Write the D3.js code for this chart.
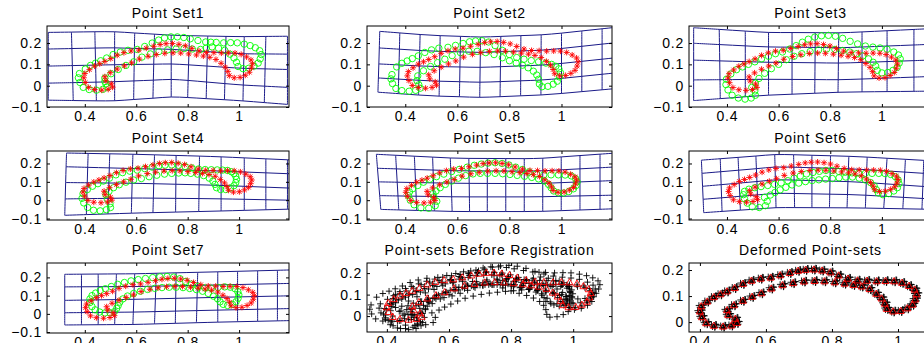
<!DOCTYPE html>
<html>
<head>
<meta charset="utf-8">
<script src="https://cdnjs.cloudflare.com/ajax/libs/d3/7.8.5/d3.min.js"></script>
<style>
  body { margin: 0; background: #fff; }
  svg { display: block; }
</style>
</head>
<body>
<svg id="fig" width="924" height="343"></svg>
<script>
// ---- data (data units) ----
const titles = ["Point Set1", "Point Set2", "Point Set3", "Point Set4", "Point Set5",
  "Point Set6", "Point Set7", "Point-sets Before Registration", "Deformed Point-sets"];
const xTicks = [0.4, 0.6, 0.8, 1];
const yTicksSet = [-0.1, 0, 0.1, 0.2];
const yTicksReg = [0, 0.1, 0.2];

// template (red triangles)
const template = [[0.507,0.012],[0.512,-0.004],[0.495,-0.014],[0.470,-0.018],[0.442,-0.015],[0.419,-0.005],[0.406,0.018],[0.400,0.040],[0.404,0.060],[0.422,0.078],[0.442,0.095],[0.462,0.106],[0.482,0.117],[0.505,0.130],[0.530,0.146],[0.556,0.158],[0.584,0.166],[0.614,0.170],[0.643,0.179],[0.672,0.188],[0.697,0.196],[0.720,0.200],[0.745,0.201],[0.770,0.197],[0.795,0.190],[0.820,0.178],[0.848,0.166],[0.877,0.159],[0.906,0.158],[0.935,0.156],[0.962,0.157],[0.988,0.156],[1.012,0.150],[1.033,0.138],[1.050,0.124],[1.056,0.106],[1.052,0.086],[1.044,0.066],[1.028,0.052],[1.008,0.042],[0.985,0.040],[0.966,0.050],[0.960,0.070],[0.950,0.090],[0.934,0.108],[0.914,0.126],[0.890,0.136],[0.865,0.142],[0.838,0.147],[0.808,0.152],[0.777,0.156],[0.747,0.157],[0.715,0.155],[0.682,0.149],[0.650,0.141],[0.616,0.128],[0.586,0.110],[0.558,0.096],[0.530,0.081],[0.503,0.064],[0.482,0.045],[0.486,0.026]];

// original point sets (green circles)
const green1 = [[0.482,0.009],[0.487,-0.007],[0.470,-0.017],[0.445,-0.021],[0.417,-0.018],[0.394,-0.008],[0.381,0.015],[0.375,0.037],[0.379,0.057],[0.402,0.078],[0.422,0.095],[0.442,0.106],[0.462,0.117],[0.485,0.130],[0.510,0.146],[0.538,0.158],[0.568,0.166],[0.604,0.170],[0.633,0.184],[0.662,0.200],[0.687,0.214],[0.710,0.224],[0.735,0.229],[0.760,0.229],[0.785,0.226],[0.810,0.220],[0.840,0.212],[0.870,0.205],[0.890,0.204],[0.911,0.203],[0.940,0.201],[0.967,0.202],[0.993,0.201],[1.020,0.195],[1.043,0.188],[1.063,0.178],[1.080,0.164],[1.086,0.146],[1.082,0.126],[1.074,0.106],[1.058,0.092],[1.038,0.082],[1.015,0.080],[0.996,0.090],[0.990,0.110],[0.980,0.130],[0.964,0.148],[0.944,0.166],[0.920,0.176],[0.895,0.182],[0.872,0.176],[0.850,0.170],[0.818,0.172],[0.786,0.174],[0.755,0.172],[0.722,0.168],[0.688,0.160],[0.655,0.149],[0.622,0.134],[0.590,0.112],[0.560,0.095],[0.530,0.076],[0.502,0.056],[0.478,0.036],[0.478,0.020]];
const green2 = [[0.452,0.004],[0.457,-0.012],[0.440,-0.022],[0.415,-0.026],[0.387,-0.023],[0.364,-0.013],[0.351,0.010],[0.345,0.032],[0.349,0.052],[0.367,0.088],[0.387,0.105],[0.407,0.116],[0.427,0.127],[0.450,0.140],[0.475,0.156],[0.501,0.168],[0.529,0.176],[0.564,0.180],[0.593,0.189],[0.622,0.198],[0.647,0.206],[0.670,0.210],[0.695,0.211],[0.720,0.205],[0.745,0.188],[0.772,0.166],[0.800,0.146],[0.828,0.132],[0.856,0.124],[0.884,0.118],[0.912,0.112],[0.940,0.106],[0.962,0.100],[0.978,0.091],[0.990,0.079],[0.996,0.061],[0.992,0.041],[0.984,0.021],[0.968,0.007],[0.948,-0.003],[0.925,-0.005],[0.915,0.008],[0.912,0.030],[0.905,0.050],[0.892,0.068],[0.872,0.084],[0.850,0.096],[0.826,0.106],[0.800,0.117],[0.773,0.131],[0.741,0.146],[0.709,0.155],[0.676,0.161],[0.644,0.162],[0.612,0.155],[0.580,0.141],[0.552,0.124],[0.524,0.108],[0.497,0.090],[0.470,0.070],[0.448,0.046],[0.445,0.024]];
const green3 = [[0.508,-0.025],[0.510,-0.045],[0.494,-0.058],[0.470,-0.063],[0.444,-0.058],[0.420,-0.045],[0.404,-0.020],[0.396,0.005],[0.398,0.030],[0.415,0.055],[0.437,0.075],[0.460,0.088],[0.483,0.100],[0.508,0.112],[0.534,0.126],[0.561,0.138],[0.588,0.150],[0.615,0.158],[0.643,0.172],[0.668,0.188],[0.692,0.204],[0.715,0.218],[0.740,0.228],[0.766,0.234],[0.793,0.236],[0.820,0.232],[0.848,0.222],[0.877,0.208],[0.906,0.196],[0.936,0.186],[0.965,0.181],[0.993,0.177],[1.020,0.171],[1.046,0.158],[1.064,0.144],[1.071,0.126],[1.067,0.106],[1.059,0.086],[1.043,0.072],[1.023,0.062],[1.000,0.060],[0.982,0.072],[0.976,0.092],[0.966,0.110],[0.948,0.126],[0.926,0.140],[0.902,0.150],[0.876,0.158],[0.848,0.165],[0.818,0.170],[0.786,0.172],[0.755,0.168],[0.722,0.160],[0.690,0.150],[0.660,0.138],[0.630,0.122],[0.600,0.100],[0.572,0.080],[0.546,0.058],[0.524,0.034],[0.510,0.012],[0.496,-0.008]];
const green4 = [[0.498,-0.020],[0.500,-0.040],[0.484,-0.052],[0.460,-0.058],[0.434,-0.055],[0.411,-0.040],[0.396,-0.015],[0.389,0.010],[0.393,0.035],[0.410,0.058],[0.430,0.076],[0.451,0.090],[0.472,0.104],[0.496,0.120],[0.521,0.138],[0.547,0.150],[0.575,0.158],[0.604,0.164],[0.633,0.172],[0.662,0.180],[0.688,0.188],[0.712,0.191],[0.738,0.192],[0.764,0.190],[0.790,0.184],[0.816,0.176],[0.842,0.170],[0.868,0.167],[0.892,0.166],[0.915,0.165],[0.936,0.164],[0.955,0.162],[0.970,0.155],[0.980,0.145],[0.987,0.130],[0.990,0.114],[0.987,0.096],[0.980,0.079],[0.966,0.066],[0.948,0.058],[0.928,0.058],[0.912,0.068],[0.906,0.086],[0.898,0.104],[0.884,0.120],[0.862,0.134],[0.838,0.142],[0.812,0.146],[0.790,0.149],[0.765,0.148],[0.738,0.146],[0.710,0.142],[0.680,0.136],[0.650,0.128],[0.620,0.118],[0.590,0.110],[0.560,0.098],[0.534,0.084],[0.512,0.068],[0.494,0.048],[0.482,0.030],[0.488,0.005]];
const green5 = [[0.510,0.018],[0.521,-0.006],[0.515,-0.030],[0.490,-0.044],[0.460,-0.042],[0.434,-0.025],[0.419,0.000],[0.412,0.025],[0.416,0.045],[0.428,0.062],[0.448,0.080],[0.470,0.098],[0.494,0.114],[0.520,0.128],[0.548,0.142],[0.578,0.156],[0.608,0.168],[0.638,0.180],[0.665,0.190],[0.692,0.197],[0.718,0.202],[0.745,0.204],[0.772,0.200],[0.798,0.192],[0.824,0.180],[0.850,0.167],[0.876,0.154],[0.904,0.142],[0.932,0.138],[0.960,0.138],[0.988,0.138],[1.014,0.137],[1.038,0.132],[1.054,0.118],[1.060,0.100],[1.056,0.080],[1.046,0.062],[1.028,0.047],[1.008,0.039],[0.988,0.040],[0.970,0.050],[0.960,0.068],[0.950,0.086],[0.934,0.104],[0.912,0.116],[0.886,0.124],[0.858,0.130],[0.830,0.135],[0.802,0.140],[0.774,0.144],[0.745,0.146],[0.716,0.146],[0.688,0.146],[0.660,0.143],[0.632,0.134],[0.604,0.120],[0.578,0.104],[0.554,0.086],[0.534,0.068],[0.518,0.050],[0.506,0.036]];
const green6 = [[0.545,0.015],[0.556,-0.006],[0.549,-0.030],[0.525,-0.040],[0.498,-0.036],[0.479,-0.016],[0.468,0.008],[0.464,0.030],[0.468,0.048],[0.485,0.060],[0.508,0.068],[0.532,0.074],[0.558,0.080],[0.584,0.086],[0.610,0.094],[0.636,0.106],[0.660,0.120],[0.684,0.132],[0.708,0.143],[0.733,0.151],[0.758,0.157],[0.783,0.162],[0.808,0.162],[0.833,0.157],[0.858,0.152],[0.884,0.149],[0.910,0.147],[0.936,0.146],[0.962,0.146],[0.988,0.146],[1.012,0.145],[1.034,0.140],[1.052,0.128],[1.063,0.110],[1.066,0.090],[1.060,0.068],[1.046,0.050],[1.026,0.036],[1.004,0.030],[0.986,0.040],[0.978,0.058],[0.970,0.078],[0.956,0.096],[0.936,0.110],[0.912,0.120],[0.886,0.126],[0.860,0.126],[0.834,0.122],[0.808,0.118],[0.782,0.115],[0.756,0.111],[0.730,0.107],[0.704,0.101],[0.678,0.093],[0.652,0.083],[0.628,0.070],[0.606,0.056],[0.586,0.042],[0.568,0.028]];
const green7 = [[0.524,0.030],[0.515,0.012],[0.498,0.006],[0.478,0.005],[0.458,0.010],[0.440,0.022],[0.428,0.040],[0.420,0.062],[0.420,0.082],[0.428,0.100],[0.442,0.114],[0.460,0.128],[0.480,0.138],[0.503,0.150],[0.528,0.162],[0.554,0.172],[0.580,0.181],[0.608,0.188],[0.636,0.194],[0.664,0.199],[0.692,0.203],[0.720,0.205],[0.746,0.202],[0.770,0.193],[0.792,0.178],[0.815,0.163],[0.840,0.151],[0.866,0.143],[0.892,0.141],[0.918,0.145],[0.944,0.148],[0.966,0.146],[0.984,0.138],[0.995,0.122],[0.999,0.104],[0.996,0.085],[0.988,0.066],[0.974,0.052],[0.955,0.046],[0.938,0.052],[0.926,0.066],[0.916,0.083],[0.900,0.097],[0.880,0.112],[0.858,0.124],[0.834,0.133],[0.808,0.139],[0.782,0.144],[0.755,0.146],[0.728,0.146],[0.700,0.144],[0.672,0.140],[0.644,0.134],[0.616,0.124],[0.590,0.112],[0.566,0.098],[0.548,0.082],[0.536,0.064],[0.530,0.046]];

// deformed point sets (red stars)
const red1 = [[0.503,0.009],[0.508,-0.007],[0.491,-0.017],[0.466,-0.021],[0.438,-0.018],[0.415,-0.008],[0.402,0.015],[0.396,0.037],[0.400,0.057],[0.418,0.075],[0.438,0.092],[0.458,0.103],[0.478,0.114],[0.501,0.127],[0.526,0.143],[0.552,0.155],[0.580,0.163],[0.610,0.167],[0.639,0.176],[0.668,0.185],[0.693,0.193],[0.716,0.197],[0.741,0.198],[0.766,0.194],[0.791,0.187],[0.816,0.175],[0.844,0.163],[0.873,0.156],[0.902,0.155],[0.931,0.153],[0.958,0.154],[0.984,0.153],[1.008,0.147],[1.029,0.135],[1.046,0.121],[1.052,0.103],[1.048,0.083],[1.040,0.063],[1.024,0.049],[1.004,0.039],[0.981,0.037],[0.962,0.047],[0.956,0.067],[0.946,0.087],[0.930,0.105],[0.910,0.123],[0.886,0.133],[0.861,0.139],[0.834,0.144],[0.804,0.149],[0.773,0.153],[0.743,0.154],[0.711,0.152],[0.678,0.146],[0.646,0.138],[0.612,0.125],[0.582,0.107],[0.554,0.093],[0.526,0.078],[0.499,0.061],[0.478,0.042],[0.482,0.023]];
const red2 = [[0.515,0.018],[0.520,0.002],[0.503,-0.008],[0.478,-0.012],[0.450,-0.009],[0.427,0.001],[0.414,0.024],[0.408,0.046],[0.412,0.066],[0.430,0.084],[0.450,0.101],[0.470,0.112],[0.490,0.123],[0.513,0.136],[0.538,0.152],[0.564,0.164],[0.592,0.172],[0.622,0.176],[0.651,0.185],[0.680,0.194],[0.705,0.202],[0.728,0.206],[0.753,0.207],[0.778,0.203],[0.803,0.196],[0.828,0.184],[0.856,0.172],[0.885,0.165],[0.914,0.164],[0.943,0.162],[0.970,0.163],[0.996,0.162],[1.020,0.156],[1.041,0.144],[1.058,0.130],[1.064,0.112],[1.060,0.092],[1.052,0.072],[1.036,0.058],[1.016,0.048],[0.993,0.046],[0.974,0.056],[0.968,0.076],[0.958,0.096],[0.942,0.114],[0.922,0.132],[0.898,0.142],[0.873,0.148],[0.846,0.153],[0.816,0.158],[0.785,0.162],[0.755,0.163],[0.723,0.161],[0.690,0.155],[0.658,0.147],[0.624,0.134],[0.594,0.116],[0.566,0.102],[0.538,0.087],[0.511,0.070],[0.490,0.051],[0.494,0.032]];
const red3 = [[0.511,0.008],[0.516,-0.008],[0.499,-0.018],[0.474,-0.022],[0.446,-0.019],[0.423,-0.009],[0.410,0.014],[0.404,0.036],[0.408,0.056],[0.426,0.074],[0.446,0.091],[0.466,0.102],[0.486,0.113],[0.509,0.126],[0.534,0.142],[0.560,0.154],[0.588,0.162],[0.618,0.166],[0.647,0.175],[0.676,0.184],[0.701,0.192],[0.724,0.196],[0.749,0.197],[0.774,0.193],[0.799,0.186],[0.824,0.174],[0.852,0.162],[0.881,0.155],[0.910,0.154],[0.939,0.152],[0.966,0.153],[0.992,0.152],[1.016,0.146],[1.037,0.134],[1.054,0.120],[1.060,0.102],[1.056,0.082],[1.048,0.062],[1.032,0.048],[1.012,0.038],[0.989,0.036],[0.970,0.046],[0.964,0.066],[0.954,0.086],[0.938,0.104],[0.918,0.122],[0.894,0.132],[0.869,0.138],[0.842,0.143],[0.812,0.148],[0.781,0.152],[0.751,0.153],[0.719,0.151],[0.686,0.145],[0.654,0.137],[0.620,0.124],[0.590,0.106],[0.562,0.092],[0.534,0.077],[0.507,0.060],[0.486,0.041],[0.490,0.022]];
const red4 = [[0.500,0.016],[0.505,0.000],[0.488,-0.010],[0.463,-0.014],[0.435,-0.011],[0.412,-0.001],[0.399,0.022],[0.393,0.044],[0.397,0.064],[0.415,0.082],[0.435,0.099],[0.455,0.110],[0.475,0.121],[0.498,0.134],[0.523,0.150],[0.549,0.162],[0.577,0.170],[0.607,0.174],[0.636,0.183],[0.665,0.192],[0.690,0.200],[0.713,0.204],[0.738,0.205],[0.763,0.201],[0.788,0.194],[0.813,0.182],[0.841,0.170],[0.870,0.163],[0.899,0.162],[0.928,0.160],[0.955,0.161],[0.981,0.160],[1.005,0.154],[1.026,0.142],[1.043,0.128],[1.049,0.110],[1.045,0.090],[1.037,0.070],[1.021,0.056],[1.001,0.046],[0.978,0.044],[0.959,0.054],[0.953,0.074],[0.943,0.094],[0.927,0.112],[0.907,0.130],[0.883,0.140],[0.858,0.146],[0.831,0.151],[0.801,0.156],[0.770,0.160],[0.740,0.161],[0.708,0.159],[0.675,0.153],[0.643,0.145],[0.609,0.132],[0.579,0.114],[0.551,0.100],[0.523,0.085],[0.496,0.068],[0.475,0.049],[0.479,0.030]];
const red5 = [[0.509,0.015],[0.514,-0.001],[0.497,-0.011],[0.472,-0.015],[0.444,-0.012],[0.421,-0.002],[0.408,0.021],[0.402,0.043],[0.406,0.063],[0.424,0.081],[0.444,0.098],[0.464,0.109],[0.484,0.120],[0.507,0.133],[0.532,0.149],[0.558,0.161],[0.586,0.169],[0.616,0.173],[0.645,0.182],[0.674,0.191],[0.699,0.199],[0.722,0.203],[0.747,0.204],[0.772,0.200],[0.797,0.193],[0.822,0.181],[0.850,0.169],[0.879,0.162],[0.908,0.161],[0.937,0.159],[0.964,0.160],[0.990,0.159],[1.014,0.153],[1.035,0.141],[1.052,0.127],[1.058,0.109],[1.054,0.089],[1.046,0.069],[1.030,0.055],[1.010,0.045],[0.987,0.043],[0.968,0.053],[0.962,0.073],[0.952,0.093],[0.936,0.111],[0.916,0.129],[0.892,0.139],[0.867,0.145],[0.840,0.150],[0.810,0.155],[0.779,0.159],[0.749,0.160],[0.717,0.158],[0.684,0.152],[0.652,0.144],[0.618,0.131],[0.588,0.113],[0.560,0.099],[0.532,0.084],[0.505,0.067],[0.484,0.048],[0.488,0.029]];
const red6 = [[0.513,0.019],[0.518,0.003],[0.501,-0.007],[0.476,-0.011],[0.448,-0.008],[0.425,0.002],[0.412,0.025],[0.406,0.047],[0.410,0.067],[0.428,0.085],[0.448,0.102],[0.468,0.113],[0.488,0.124],[0.511,0.137],[0.536,0.153],[0.562,0.165],[0.590,0.173],[0.620,0.177],[0.649,0.186],[0.678,0.195],[0.703,0.203],[0.726,0.207],[0.751,0.208],[0.776,0.204],[0.801,0.197],[0.826,0.185],[0.854,0.173],[0.883,0.166],[0.912,0.165],[0.941,0.163],[0.968,0.164],[0.994,0.163],[1.018,0.157],[1.039,0.145],[1.056,0.131],[1.062,0.113],[1.058,0.093],[1.050,0.073],[1.034,0.059],[1.014,0.049],[0.991,0.047],[0.972,0.057],[0.966,0.077],[0.956,0.097],[0.940,0.115],[0.920,0.133],[0.896,0.143],[0.871,0.149],[0.844,0.154],[0.814,0.159],[0.783,0.163],[0.753,0.164],[0.721,0.162],[0.688,0.156],[0.656,0.148],[0.622,0.135],[0.592,0.117],[0.564,0.103],[0.536,0.088],[0.509,0.071],[0.488,0.052],[0.492,0.033]];
const red7 = [[0.510,0.006],[0.515,-0.010],[0.498,-0.020],[0.473,-0.024],[0.445,-0.021],[0.422,-0.011],[0.409,0.012],[0.403,0.034],[0.407,0.054],[0.425,0.072],[0.445,0.089],[0.465,0.100],[0.485,0.111],[0.508,0.124],[0.533,0.140],[0.559,0.152],[0.587,0.160],[0.617,0.164],[0.646,0.173],[0.675,0.182],[0.700,0.190],[0.723,0.194],[0.748,0.195],[0.773,0.191],[0.798,0.184],[0.823,0.172],[0.851,0.160],[0.880,0.153],[0.909,0.152],[0.938,0.150],[0.965,0.151],[0.991,0.150],[1.015,0.144],[1.036,0.132],[1.053,0.118],[1.059,0.100],[1.055,0.080],[1.047,0.060],[1.031,0.046],[1.011,0.036],[0.988,0.034],[0.969,0.044],[0.963,0.064],[0.953,0.084],[0.937,0.102],[0.917,0.120],[0.893,0.130],[0.868,0.136],[0.841,0.141],[0.811,0.146],[0.780,0.150],[0.750,0.151],[0.718,0.149],[0.685,0.143],[0.653,0.135],[0.619,0.122],[0.589,0.104],[0.561,0.090],[0.533,0.075],[0.506,0.058],[0.485,0.039],[0.489,0.020]];

// deformation grids: x of each vertical line at top / bottom row, y profile of each row
const grid1 = {
  top: [0.258,0.348,0.439,0.516,0.594,0.671,0.736,0.807,0.878,0.949,1.020,1.104,1.188],
  bot: [0.258,0.355,0.445,0.516,0.590,0.665,0.736,0.800,0.872,0.943,1.015,1.098,1.188],
  rows: [
    [[0.26,0.250],[0.5,0.254],[0.75,0.236],[1.0,0.230],[1.19,0.232]],
    [[0.26,0.172],[0.5,0.178],[0.75,0.170],[1.0,0.150],[1.19,0.148]],
    [[0.26,0.092],[0.5,0.098],[0.75,0.102],[1.0,0.082],[1.19,0.076]],
    [[0.26,0.012],[0.5,0.018],[0.75,0.030],[1.0,0.004],[1.19,-0.008]],
    [[0.26,-0.068],[0.5,-0.072],[0.75,-0.052],[1.0,-0.070],[1.19,-0.088]]
  ]
};
const grid2 = {
  top: [0.302,0.379,0.457,0.534,0.612,0.689,0.767,0.844,0.922,1.000,1.078,1.156,1.234],
  bot: [0.295,0.373,0.451,0.530,0.608,0.686,0.764,0.843,0.921,1.000,1.078,1.156,1.234],
  rows: [
    [[0.30,0.255],[0.5,0.236],[0.7,0.228],[0.95,0.240],[1.24,0.278]],
    [[0.30,0.177],[0.5,0.162],[0.7,0.156],[0.95,0.168],[1.24,0.206]],
    [[0.30,0.102],[0.5,0.090],[0.7,0.086],[0.95,0.098],[1.24,0.135]],
    [[0.30,0.036],[0.5,0.022],[0.7,0.016],[0.95,0.028],[1.24,0.064]],
    [[0.30,-0.031],[0.5,-0.048],[0.7,-0.055],[0.95,-0.042],[1.24,-0.010]]
  ]
};
const grid3 = {
  top: [0.271,0.370,0.471,0.561,0.652,0.742,0.833,0.923,1.020,1.124,1.228],
  bot: [0.271,0.374,0.471,0.561,0.652,0.740,0.830,0.923,1.020,1.124,1.228],
  rows: [
    [[0.27,0.272],[0.55,0.250],[0.85,0.248],[1.23,0.270]],
    [[0.27,0.199],[0.55,0.182],[0.85,0.178],[1.23,0.196]],
    [[0.27,0.120],[0.55,0.110],[0.85,0.106],[1.23,0.122]],
    [[0.27,0.027],[0.55,0.030],[0.85,0.028],[1.23,0.045]],
    [[0.27,-0.070],[0.55,-0.045],[0.85,-0.030],[1.23,-0.025]]
  ]
};
const grid4 = {
  top: [0.329,0.413,0.497,0.587,0.671,0.755,0.846,0.930,1.020,1.104,1.188,1.272],
  bot: [0.322,0.406,0.490,0.581,0.665,0.753,0.843,0.930,1.020,1.104,1.188,1.272],
  rows: [
    [[0.33,0.257],[0.6,0.250],[0.9,0.238],[1.27,0.215]],
    [[0.33,0.182],[0.6,0.172],[0.9,0.160],[1.27,0.140]],
    [[0.33,0.096],[0.6,0.092],[0.9,0.082],[1.27,0.062]],
    [[0.33,0.007],[0.6,0.012],[0.9,0.008],[1.27,-0.002]],
    [[0.33,-0.082],[0.6,-0.070],[0.9,-0.060],[1.27,-0.046]]
  ]
};
const grid5 = {
  top: [0.289,0.363,0.435,0.505,0.573,0.644,0.715,0.786,0.857,0.928,0.999,1.071,1.148,1.220],
  bot: [0.306,0.375,0.444,0.512,0.580,0.647,0.715,0.786,0.857,0.928,0.999,1.071,1.148,1.220],
  rows: [
    [[0.29,0.250],[0.6,0.228],[0.9,0.226],[1.22,0.258]],
    [[0.29,0.174],[0.6,0.160],[0.9,0.158],[1.22,0.182]],
    [[0.29,0.100],[0.6,0.092],[0.9,0.090],[1.22,0.108]],
    [[0.29,0.025],[0.6,0.018],[0.9,0.018],[1.22,0.028]],
    [[0.30,-0.050],[0.6,-0.062],[0.9,-0.062],[1.22,-0.046]]
  ]
};
const grid6 = {
  top: [0.301,0.374,0.443,0.512,0.585,0.658,0.729,0.801,0.872,0.943,1.020,1.091,1.162,1.233],
  bot: [0.310,0.381,0.452,0.520,0.590,0.662,0.729,0.797,0.865,0.936,1.007,1.081,1.155,1.226],
  rows: [
    [[0.30,0.218],[0.6,0.250],[0.9,0.238],[1.2,0.214]],
    [[0.30,0.146],[0.6,0.182],[0.9,0.170],[1.2,0.143]],
    [[0.30,0.075],[0.6,0.112],[0.9,0.100],[1.2,0.071]],
    [[0.30,0.004],[0.6,0.038],[0.9,0.030],[1.2,0.006]],
    [[0.31,-0.068],[0.6,-0.040],[0.9,-0.042],[1.2,-0.050]]
  ]
};
const grid7 = {
  top: [0.322,0.387,0.452,0.523,0.594,0.678,0.755,0.839,0.917,0.994,1.072,1.149,1.227],
  bot: [0.322,0.387,0.452,0.516,0.587,0.671,0.752,0.834,0.917,0.994,1.072,1.149,1.227],
  rows: [
    [[0.32,0.217],[0.6,0.220],[0.9,0.230],[1.23,0.242]],
    [[0.32,0.148],[0.6,0.150],[0.9,0.158],[1.23,0.168]],
    [[0.32,0.074],[0.6,0.080],[0.9,0.090],[1.23,0.100]],
    [[0.32,0.006],[0.6,0.010],[0.9,0.020],[1.23,0.030]],
    [[0.32,-0.061],[0.6,-0.058],[0.9,-0.046],[1.23,-0.036]]
  ]
};

// ---- layout ----
const greens = [green1, green2, green3, green4, green5, green6, green7];
const reds = [red1, red2, red3, red4, red5, red6, red7];
const grids = [grid1, grid2, grid3, grid4, grid5, grid6, grid7];

const colX = [47, 367, 689], colW = [242, 245, 243];
const rowTop = [26, 151, 263], rowH = [81, 69, 70];
const rowYd = [[-0.1, 0.28], [-0.108, 0.268], [-0.105, 0.279]];
const setXd = [0.253, 1.194];

const FONT = "'Liberation Sans', Arial, Helvetica, sans-serif";
const GRID_COLOR = "#1a1a88";
const svg = d3.select("#fig");

const starPath = "M-3,0H3M0,-3V3M-2.2,-2.2L2.2,2.2M-2.2,2.2L2.2,-2.2";
const plusPath = "M-3.2,0H3.2M0,-3.2V3.2";
const triPath = "M0,-3.9L3.5,2.3H-3.5Z";

function drawGrid(g, grid, x, y) {
  const nR = grid.rows.length;
  const rowFn = grid.rows.map(r => d3.scaleLinear().domain(r.map(p => p[0])).range(r.map(p => p[1])));
  const nodes = grid.rows.map((r, ri) => grid.top.map((xt, ci) => {
    const xv = xt + (grid.bot[ci] - xt) * ri / (nR - 1);
    return [xv, rowFn[ri](xv)];
  }));
  const line = d3.line().x(d => x(d[0])).y(d => y(d[1])).curve(d3.curveCatmullRom);
  nodes.forEach(row => g.append("path").attr("d", line(row)));
  grid.top.forEach((_, ci) => g.append("path").attr("d", line(nodes.map(row => row[ci]))));
  g.selectAll("path").attr("fill", "none").attr("stroke", GRID_COLOR).attr("stroke-width", 1);
}

function drawAxes(g, p, x, y, yTicks) {
  const fmt = d3.format("");
  g.append("g").attr("transform", `translate(0,${p.y + p.h})`)
    .call(d3.axisBottom(x).tickValues(xTicks).tickSize(-3).tickPadding(4).tickFormat(fmt));
  g.append("g").attr("transform", `translate(${p.x},0)`)
    .call(d3.axisLeft(y).tickValues(yTicks).tickSize(-3).tickPadding(5).tickFormat(fmt));
  g.append("g").attr("transform", `translate(0,${p.y})`)
    .call(d3.axisTop(x).tickValues(xTicks).tickSize(-3).tickFormat(""));
  g.append("g").attr("transform", `translate(${p.x + p.w},0)`)
    .call(d3.axisRight(y).tickValues(yTicks).tickSize(-3).tickFormat(""));
  g.selectAll(".domain").remove();
  g.selectAll(".tick line").attr("stroke", "#000").attr("stroke-width", 1);
  g.selectAll("g").attr("font-family", FONT).attr("font-size", 14);
  g.selectAll(".tick text").attr("fill", "#000").style("letter-spacing", "0.8px");
  g.append("rect").attr("x", p.x).attr("y", p.y).attr("width", p.w).attr("height", p.h)
    .attr("fill", "none").attr("stroke", "#000").attr("stroke-width", 1);
}

function drawMarks(g, pts, path, color, x, y) {
  g.append("g").selectAll("path").data(pts).join("path")
    .attr("d", path)
    .attr("transform", d => `translate(${x(d[0])},${y(d[1])})`)
    .attr("fill", "none").attr("stroke", color).attr("stroke-width", 0.9);
}

const panels = titles.map((t, i) => {
  const r = Math.floor(i / 3), c = i % 3;
  const p = { title: t, x: colX[c], y: rowTop[r], w: colW[c], h: rowH[r], xd: setXd, yd: rowYd[r] };
  if (i === 7) { p.h = 69; p.xd = [0.336, 1.125]; p.yd = [-0.074, 0.247]; }
  if (i === 8) { p.h = 69; p.xd = [0.367, 1.103]; p.yd = [-0.038, 0.227]; }
  return p;
});

panels.forEach((p, i) => {
  const x = d3.scaleLinear().domain(p.xd).range([p.x, p.x + p.w]);
  const y = d3.scaleLinear().domain(p.yd).range([p.y + p.h, p.y]);
  const g = svg.append("g");
  g.append("clipPath").attr("id", "clip" + i).append("rect")
    .attr("x", p.x).attr("y", p.y).attr("width", p.w).attr("height", p.h);
  const plot = g.append("g").attr("clip-path", `url(#clip${i})`);

  if (i < 7) {
    drawGrid(plot.append("g"), grids[i], x, y);
    plot.append("g").selectAll("circle").data(greens[i]).join("circle")
      .attr("cx", d => x(d[0])).attr("cy", d => y(d[1])).attr("r", 3.2)
      .attr("fill", "none").attr("stroke", "#00ff00").attr("stroke-width", 0.9);
    drawMarks(plot, reds[i], starPath, "#ff0000", x, y);
    drawAxes(g, p, x, y, yTicksSet);
  } else {
    const sets = i === 7 ? greens : reds;
    sets.forEach(s => drawMarks(plot, s, plusPath, "#000", x, y));
    drawMarks(plot, template, triPath, "#ff0000", x, y);
    drawAxes(g, p, x, y, yTicksReg);
  }

  svg.append("text")
    .attr("x", p.x + p.w / 2).attr("y", p.y - 8.5)
    .attr("text-anchor", "middle")
    .attr("font-family", FONT).attr("font-size", 14)
    .style("letter-spacing", "0.8px")
    .text(p.title);
});
</script>
</body>
</html>
